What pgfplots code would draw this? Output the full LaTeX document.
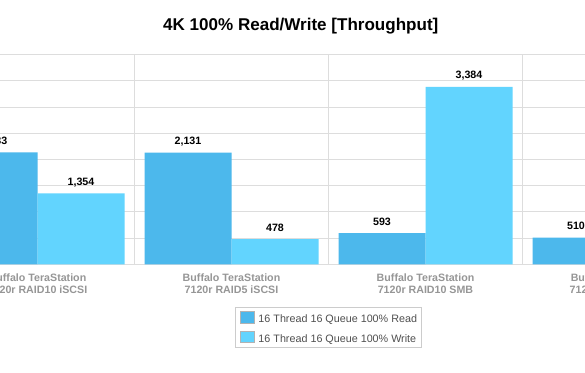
\documentclass[border=0pt]{standalone}
\usepackage{pgfplots}
\pgfplotsset{compat=1.18}
\usepackage{fontspec}
\setmainfont{Liberation Sans}
\definecolor{readc}{RGB}{76,184,236}
\definecolor{writec}{RGB}{98,212,254}
\definecolor{gridc}{RGB}{221,221,221}
\definecolor{tickc}{RGB}{150,150,150}
\definecolor{legtext}{RGB}{80,80,80}
\definecolor{legborder}{RGB}{204,204,204}
\begin{document}
\begin{tikzpicture}[x=1bp,y=1bp]
\useasboundingbox[fill=white] (0,0) rectangle (585,372);
\clip (0,0) rectangle (585,372);
\begin{axis}[
  at={(-59.5bp,107.7bp)}, anchor=south west,
  scale only axis, width=776bp, height=209.8bp,
  xmin=-0.5, xmax=3.5, ymin=0, ymax=4000,
  ybar=0pt, bar width=87bp,
  ytick distance=500, yticklabels={}, ymajorgrids,
  xtick={0,1,2,3}, minor xtick={-0.5,0.5,1.5,2.5,3.5}, xminorgrids,
  xticklabels={{Buffalo TeraStation\\7120r RAID10 iSCSI},{Buffalo TeraStation\\7120r RAID5 iSCSI},{Buffalo TeraStation\\7120r RAID10 SMB},{Buffalo TeraStation\\7120r RAID10 iSCSI}},
  grid style={draw=gridc, line width=0.8bp},
  minor grid style={draw=gridc, line width=0.8bp},
  axis line style={draw=none},
  major tick length=0pt, minor tick length=0pt,
  tick style={draw=none},
  xticklabel style={font=\fontsize{10.7}{12.7}\selectfont\bfseries, text=tickc, align=center, inner sep=0pt, anchor=north, yshift=-9bp},
  nodes near coords={\pgfmathprintnumber[fixed,precision=0,1000 sep={,},assume math mode=true]{\pgfplotspointmeta}},
  nodes near coords style={font=\fontsize{10.7}{12}\selectfont\bfseries, text=black, inner sep=0pt, text depth=0pt, yshift=8bp},
  title={4K 100\% Read/Write [Throughput]},
  title style={font=\fontsize{17.1}{20}\selectfont\bfseries, at={(0.5,1)}, anchor=base, yshift=18.5bp, xshift=-27.7bp, inner sep=0pt},
  legend style={at={(0.5,0)}, anchor=north, yshift=-43bp, draw=legborder, line width=0.8bp, fill=white,
    font=\fontsize{10.8}{13}\selectfont, text=legtext, inner xsep=4.4bp, inner ysep=3.5bp, row sep=6.7bp,
    /tikz/every odd column/.append style={column sep=4bp}, nodes={inner sep=0pt}},
  legend cell align=left,
  legend image code/.code={\draw[#1, draw=gray!60, line width=0.5bp] (0bp,-3bp) rectangle (14bp,8.3bp);},
]
\addplot[fill=readc, draw=none] coordinates {(0,2133) (1,2131) (2,593) (3,510)};
\addplot[fill=writec, draw=none] coordinates {(0,1354) (1,478) (2,3384)};
\legend{16 Thread 16 Queue 100\% Read, 16 Thread 16 Queue 100\% Write}
\end{axis}
\end{tikzpicture}
\end{document}
